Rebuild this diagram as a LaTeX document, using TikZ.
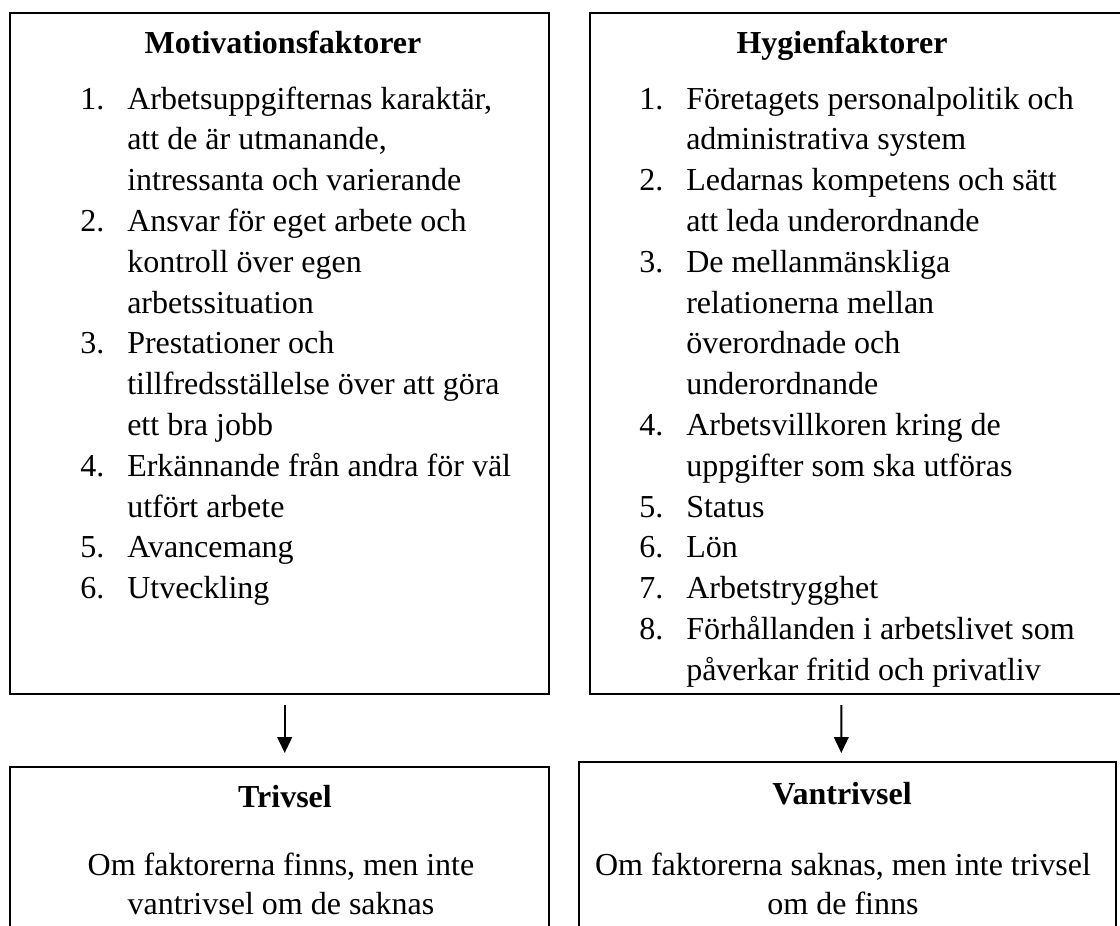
\documentclass[tikz,border=0pt]{standalone}
\usepackage{fontspec}
\setmainfont{Liberation Serif}
\usetikzlibrary{arrows.meta}
\begin{document}
\begin{tikzpicture}[x=0.75pt,y=-0.75pt,
  box/.style={draw, line width=1.5pt, inner sep=0pt},
  ttl/.style={font=\fontsize{24}{28}\selectfont\bfseries, inner sep=0pt, anchor=mid},
  txt/.style={font=\fontsize{24}{28}\selectfont, inner sep=0pt, anchor=mid west},
  ctr/.style={font=\fontsize{24}{28}\selectfont, inner sep=0pt, anchor=mid},
  arr/.style={-{Triangle[width=11pt,length=12pt]}, line width=1.5pt}]
\useasboundingbox (0,0) rectangle (1120,925);
\clip (0,0) rectangle (1120,925);
% boxes
\node[box, minimum width=404.25pt, minimum height=510.75pt] (motbox) at (279.5,353.5) {};
\node[box, minimum width=403.5pt, minimum height=510.75pt] (hygbox) at (859,353.5) {};
\node[box, minimum width=404.25pt, minimum height=144.75pt] (trivbox) at (279.5,863.5) {};
\node[box, minimum width=402.75pt, minimum height=148.5pt] (vanbox) at (847.5,861) {};
% arrows
\draw[arr, shorten <=7.5pt, shorten >=9.75pt] ([xshift=3.9pt]motbox.south) -- ([xshift=3.9pt]trivbox.north);
\draw[arr, shorten <=7.5pt, shorten >=6pt] ([xshift=-13.3pt]hygbox.south) -- ([xshift=-4.65pt]vanbox.north);
% titles
\node[ttl] (mottitle) at (283,50) {Motivationsfaktorer};
\node[ttl] (hygtitle) at (842,50) {Hygienfaktorer};
\node[ttl] (trivtitle) at (285,804) {Trivsel};
\node[ttl] (vantitle) at (842,801) {Vantrivsel};
% left list
\foreach \t [count=\i] in {{Arbetsuppgifternas karaktär,},{att de är utmanande,},{intressanta och varierande},{Ansvar för eget arbete och},{kontroll över egen},{arbetssituation},{Prestationer och},{tillfredsställelse över att göra},{ett bra jobb},{Erkännande från andra för väl},{utfört arbete},{Avancemang},{Utveckling}}
  \node[txt] (lt\i) at (127,{106+40.8*(\i-1)}) {\t};
\foreach \n/\i in {1/1,2/4,3/7,4/10,5/12,6/13}
  \node[txt] (ln\n) at (80,{106+40.8*(\i-1)}) {\n.};
% right list
\foreach \t [count=\i] in {{Företagets personalpolitik och},{administrativa system},{Ledarnas kompetens och sätt},{att leda underordnande},{De mellanmänskliga},{relationerna mellan},{överordnade och},{underordnande},{Arbetsvillkoren kring de},{uppgifter som ska utföras},{Status},{Lön},{Arbetstrygghet},{Förhållanden i arbetslivet som},{påverkar fritid och privatliv}}
  \node[txt] (rt\i) at (686,{106+40.8*(\i-1)}) {\t};
\foreach \n/\i in {1/1,2/3,3/5,4/9,5/11,6/12,7/13,8/14}
  \node[txt] (rn\n) at (639,{106+40.8*(\i-1)}) {\n.};
% bottom texts
\node[ctr] (triv1) at (281,872) {Om faktorerna finns, men inte};
\node[ctr] (triv2) at (281,911) {vantrivsel om de saknas};
\node[ctr] (van1) at (843,872) {Om faktorerna saknas, men inte trivsel};
\node[ctr] (van2) at (843,911) {om de finns};
\end{tikzpicture}
\end{document}
